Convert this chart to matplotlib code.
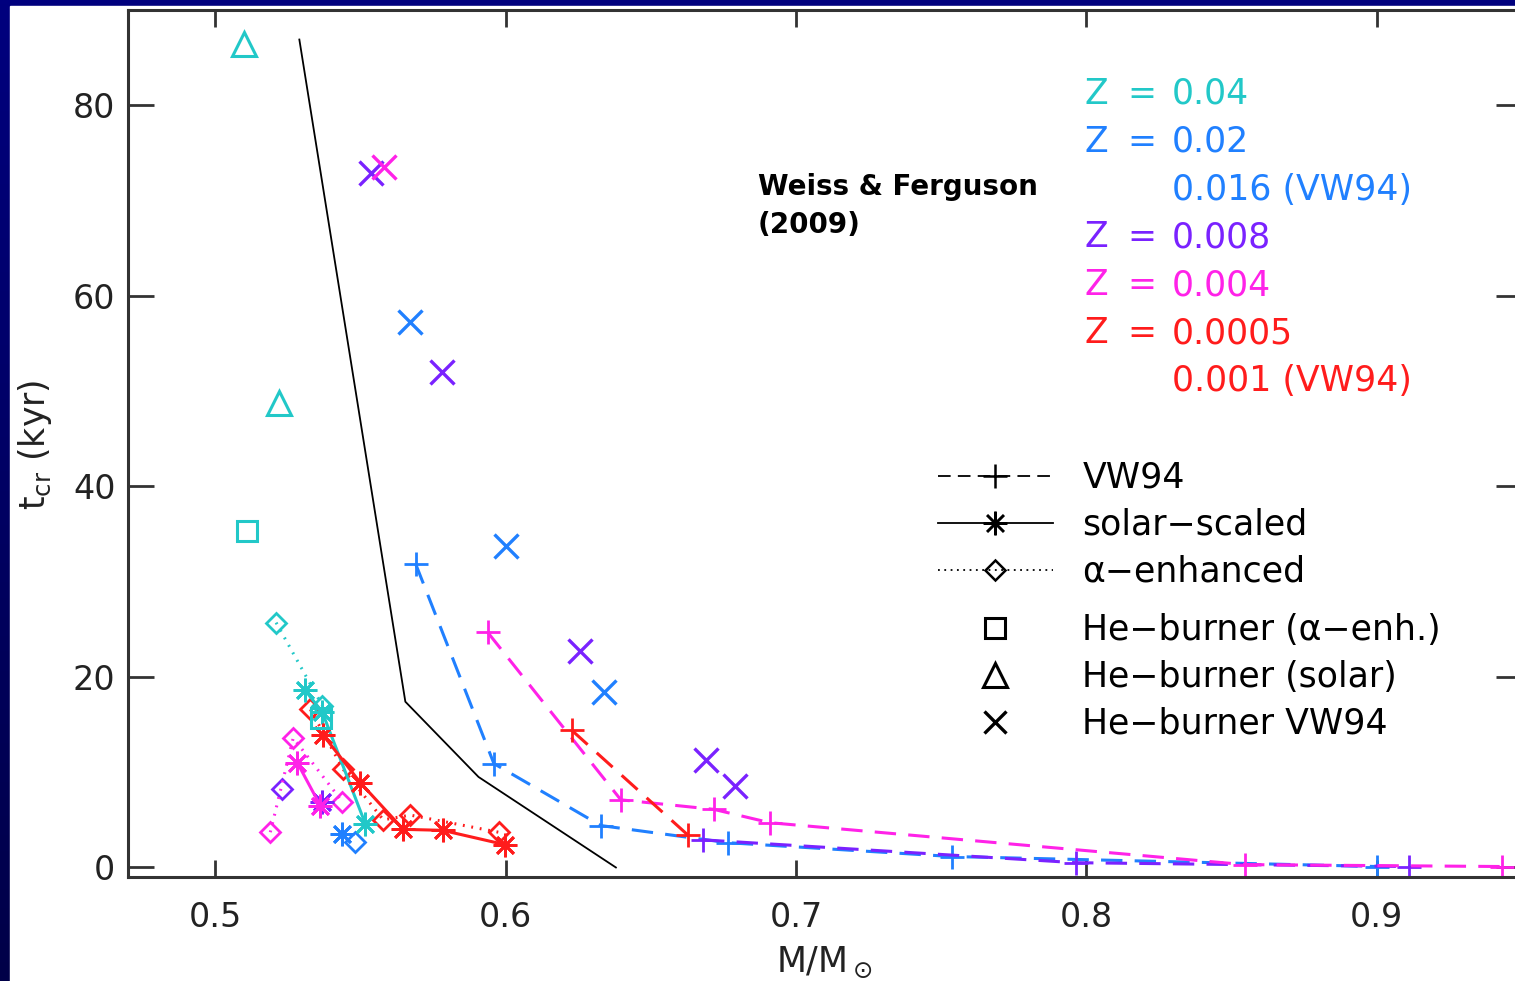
import numpy as np
import matplotlib
matplotlib.use('Agg')
import matplotlib.pyplot as plt
from matplotlib.lines import Line2D

# colours of the metallicity sets
c_040 = '#22c8c8'
c_020 = '#2080ff'
c_008 = '#7a22ff'
c_004 = '#ff22e8'
c_0005 = '#ff1c1c'

# --- VW94 tracks (dashed, +) ---
vw_020_m = [0.569, 0.596, 0.6328, 0.6766, 0.7537, 0.900]
vw_020_t = [31.9, 10.9, 4.4, 2.6, 1.15, 0.1]
vw_008_m = [0.668, 0.7964, 0.911]
vw_008_t = [2.9, 0.5, 0.1]
vw_004_m = [0.5938, 0.6397, 0.6717, 0.691, 0.8545, 0.943]
vw_004_t = [24.7, 7.1, 6.1, 4.7, 0.3, 0.1]
vw_001_m = [0.6228, 0.6628]
vw_001_t = [14.4, 3.4]

# --- solar-scaled (solid, asterisk) ---
sol_040_m = [0.531, 0.5369, 0.5517]
sol_040_t = [18.6, 16.3, 4.6]
sol_020_m = [0.5438]
sol_020_t = [3.5]
sol_008_m = [0.5369]
sol_008_t = [6.9]
sol_004_m = [0.5283, 0.5362]
sol_004_t = [11.0, 6.5]
sol_0005_m = [0.5372, 0.550, 0.5648, 0.5783, 0.5997]
sol_0005_t = [13.9, 8.9, 4.0, 3.9, 2.4]

# --- alpha-enhanced (dotted, diamond) ---
alp_040_m = [0.521, 0.5369]
alp_040_t = [25.7, 17.0]
alp_020_m = [0.5483]
alp_020_t = [2.7]
alp_008_m = [0.5231]
alp_008_t = [8.2]
alp_004_m = [0.519, 0.5269, 0.5438]
alp_004_t = [3.7, 13.6, 6.9]
alp_0005_m = [0.5328, 0.5441, 0.5579, 0.5672, 0.5976]
alp_0005_t = [16.6, 10.3, 5.0, 5.5, 3.7]

# --- He-burners ---
heb_alpha_m = [0.511, 0.5366]          # Z=0.04, squares
heb_alpha_t = [35.3, 15.7]
heb_solar_m = [0.510, 0.522]           # Z=0.04, triangles
heb_solar_t = [86.4, 48.7]
heb_vw_020_m = [0.567, 0.6003, 0.634]
heb_vw_020_t = [57.3, 33.7, 18.4]
heb_vw_008_m = [0.5538, 0.578, 0.6255, 0.669, 0.679]
heb_vw_008_t = [72.9, 52.0, 22.7, 11.3, 8.6]
heb_vw_004_m = [0.558]
heb_vw_004_t = [73.5]

# black boundary line
bound_m = [0.529, 0.5655, 0.5907, 0.638]
bound_t = [86.9, 17.4, 9.5, 0.0]

z_labels = [('Z', '=', '0.04', c_040),
            ('Z', '=', '0.02', c_020),
            ('', '', '0.016 (VW94)', c_020),
            ('Z', '=', '0.008', c_008),
            ('Z', '=', '0.004', c_004),
            ('Z', '=', '0.0005', c_0005),
            ('', '', '0.001 (VW94)', c_0005)]

W, H = 1515, 981
fig = plt.figure(figsize=(W / 100, H / 100), dpi=100)

# navy frame with a slight vertical gradient
bg = fig.add_axes([0, 0, 1, 1])
grad = np.linspace(0, 1, 256).reshape(-1, 1)
bg.imshow(grad, aspect='auto', extent=[0, 1, 0, 1],
          cmap=matplotlib.colors.LinearSegmentedColormap.from_list('nv', ['#000048', '#00007e']),
          origin='lower')
bg.add_patch(plt.Rectangle((10 / W, 0), 1, 1 - 6 / H, color='white'))
bg.set_xlim(0, 1)
bg.set_ylim(0, 1)
bg.axis('off')

ax = fig.add_axes([128 / W, 104 / H, 1394 / W, 867 / H])
ax.set_xlim(0.47, 0.95)
ax.set_ylim(-1, 90)

lw = 2.2
dash = (7, 4)
dot = (0.6, 2.2)

def vw(m, t, c):
    ax.plot(m, t, color=c, lw=lw, dashes=dash, marker='+', ms=17, mew=2.0)

def sol(m, t, c):
    ax.plot(m, t, color=c, lw=lw, ls='-', marker=(8, 2, 0), ms=17, mew=2.0)

def alp(m, t, c):
    ax.plot(m, t, color=c, lw=lw, dashes=dot, marker='D', ms=10, mew=2.0, mfc='none')

ax.plot(bound_m, bound_t, color='black', lw=1.3)

vw(vw_020_m, vw_020_t, c_020)
vw(vw_008_m, vw_008_t, c_008)
vw(vw_004_m, vw_004_t, c_004)
vw(vw_001_m, vw_001_t, c_0005)

alp(alp_040_m, alp_040_t, c_040)
alp(alp_020_m, alp_020_t, c_020)
alp(alp_008_m, alp_008_t, c_008)
alp(alp_004_m, alp_004_t, c_004)
alp(alp_0005_m, alp_0005_t, c_0005)

sol(sol_040_m, sol_040_t, c_040)
sol(sol_020_m, sol_020_t, c_020)
sol(sol_008_m, sol_008_t, c_008)
sol(sol_004_m, sol_004_t, c_004)
sol(sol_0005_m, sol_0005_t, c_0005)

ax.plot(heb_alpha_m, heb_alpha_t, ls='none', marker='s', ms=15, mew=2.2, mfc='none', mec=c_040)
ax.plot(heb_solar_m, heb_solar_t, ls='none', marker='^', ms=17, mew=2.2, mfc='none', mec=c_040)
ax.plot(heb_vw_020_m, heb_vw_020_t, ls='none', marker='x', ms=17, mew=2.4, color=c_020)
ax.plot(heb_vw_008_m, heb_vw_008_t, ls='none', marker='x', ms=17, mew=2.4, color=c_008)
ax.plot(heb_vw_004_m, heb_vw_004_t, ls='none', marker='x', ms=17, mew=2.4, color=c_004)

# axes styling
for s in ax.spines.values():
    s.set_linewidth(2.2)
    s.set_color('#333333')
ax.set_xticks([0.5, 0.6, 0.7, 0.8, 0.9])
ax.set_xticklabels(['0.5', '0.6', '0.7', '0.8', '0.9'])
ax.set_yticks([0, 20, 40, 60, 80])
ax.tick_params(axis='x', direction='in', length=12, width=2, color='#333333',
               top=True, labelsize=24, pad=17)
ax.tick_params(axis='y', direction='in', length=19, width=2, color='#333333',
               right=True, labelsize=24, pad=9)
for lab in ax.get_xticklabels() + ax.get_yticklabels():
    lab.set_family('DejaVu Sans')
    lab.set_color('#222222')

fig.text(824 / W, 1 - 962 / H, r'M/M$_\odot$', ha='center', va='center',
         fontsize=25, family='DejaVu Sans', color='#222222')
fig.text(35 / W, 1 - 445 / H, r't$_{\rm cr}$ (kyr)', ha='center', va='center',
         rotation=90, fontsize=25, family='DejaVu Sans', color='#222222')

fig.text(758 / W, 1 - 187 / H, 'Weiss & Ferguson', ha='left', va='center',
         fontsize=20, fontweight='bold', family='DejaVu Sans')
fig.text(758 / W, 1 - 225 / H, '(2009)', ha='left', va='center',
         fontsize=20, fontweight='bold', family='DejaVu Sans')

# metallicity key
fnt = dict(fontsize=25, family='DejaVu Sans', va='center')
for i, (z, eq, val, c) in enumerate(z_labels):
    y = 1 - (94 + i * 47.8) / H
    if z:
        fig.text(1085 / W, y, z, color=c, ha='left', **fnt)
        fig.text(1127 / W, y, eq, color=c, ha='left', **fnt)
    fig.text(1172 / W, y, val, color=c, ha='left', **fnt)

# symbol key
h1 = [Line2D([], [], color='black', lw=1.3, dashes=(7, 4), marker='+', ms=17, mew=1.8),
      Line2D([], [], color='black', lw=1.3, ls='-', marker=(8, 2, 0), ms=17, mew=1.8),
      Line2D([], [], color='black', lw=1.3, dashes=(1, 2.5), marker='D', ms=10, mew=1.8, mfc='none')]
l1 = ['VW94', 'solar\u2212scaled', '\u03b1\u2212enhanced']
h2 = [Line2D([], [], ls='none', color='black', marker='s', ms=15, mew=2.2, mfc='none'),
      Line2D([], [], ls='none', color='black', marker='^', ms=17, mew=2.2, mfc='none'),
      Line2D([], [], ls='none', color='black', marker='x', ms=16, mew=2.4)]
l2 = ['He\u2212burner (\u03b1\u2212enh.)', 'He\u2212burner (solar)', 'He\u2212burner VW94']

kw = dict(loc='upper left', bbox_transform=fig.transFigure, frameon=False,
          handlelength=3.3, handletextpad=0.86, borderpad=0, borderaxespad=0,
          labelspacing=0.37, numpoints=1, prop={'family': 'DejaVu Sans', 'size': 25})
leg1 = ax.legend(h1, l1, bbox_to_anchor=(938 / W, 1 - 461 / H), **kw)
ax.add_artist(leg1)
ax.legend(h2, l2, bbox_to_anchor=(938 / W, 1 - 613 / H), **kw)

fig.savefig('out.png', dpi=100)
